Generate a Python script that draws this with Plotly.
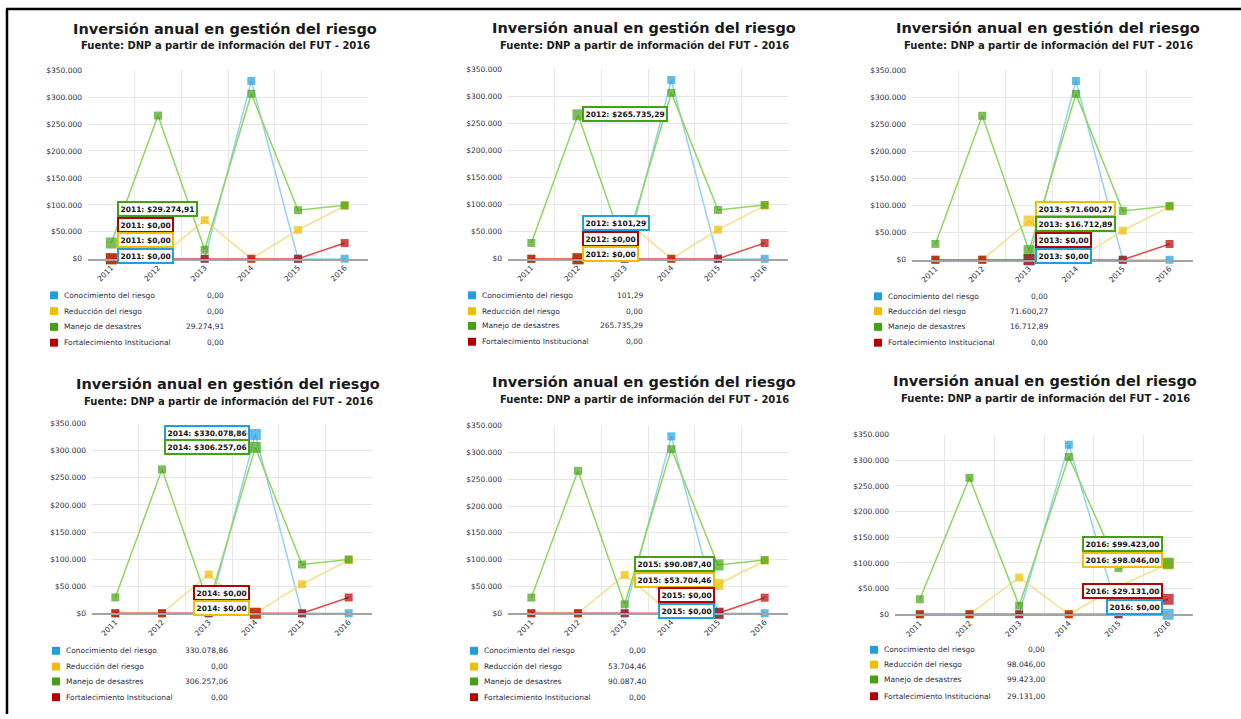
import plotly.graph_objects as go

W, H = 1241, 719

# ---- data -------------------------------------------------------------
years = ["2011", "2012", "2013", "2014", "2015", "2016"]
conocimiento = [0.00, 101.29, 0.00, 330078.86, 0.00, 0.00]
reduccion = [0.00, 0.00, 71600.27, 0.00, 53704.46, 98046.00]
manejo = [29274.91, 265735.29, 16712.89, 306257.06, 90087.40, 99423.00]
fortalecimiento = [0.00, 0.00, 0.00, 0.00, 0.00, 29131.00]

series_names = ["Conocimiento del riesgo", "Reducción del riesgo",
                "Manejo de desastres", "Fortalecimiento Institucional"]
y_ticks = [0, 50000, 100000, 150000, 200000, 250000, 300000, 350000]
title_text = "Inversión anual en gestión del riesgo"
subtitle_text = "Fuente: DNP a partir de información del FUT - 2016"

series_values = [conocimiento, reduccion, manejo, fortalecimiento]

# ---- styles -----------------------------------------------------------
marker_colors = ["#1f9fdf", "#f0bd00", "#43a214", "#b50000"]
line_colors = ["#95d2f0", "#f7dd86", "#8fd65c", "#e24848"]
grid_col = "#e7e7e7"
text_col = "#2b2d42"

# Each panel: plot box (px), title centre, legend layout, hovered year
# and tooltip placement (anchor x, side, centre y per series).
panels = [
    dict(box=(88, 368, 67, 258), tc=(225, 25, 42),
         leg=(54, 62, 226, [295, 311, 327, 343]), hover=0,
         tip=dict(x=117, side="left", ys={2: 208, 3: 224, 1: 239, 0: 255})),
    dict(box=(508, 788, 66, 258), tc=(644, 24, 42),
         leg=(472, 480, 645, [295, 311, 326, 342]), hover=1,
         tip=dict(x=582, side="left", ys={2: 111, 0: 222, 3: 238, 1: 253})),
    dict(box=(912, 1193, 67, 259), tc=(1048, 24, 42),
         leg=(878, 886, 1050, [296, 311, 327, 343]), hover=2,
         tip=dict(x=1035, side="left", ys={1: 208, 2: 223, 3: 239, 0: 255})),
    dict(box=(92, 372, 425, 617), tc=(228, 385, 403),
         leg=(56, 64, 230, [655, 671, 686, 702]), hover=3,
         tip=dict(x=250, side="right", ys={0: 434, 2: 449, 3: 596, 1: 612})),
    dict(box=(508, 788, 427, 617), tc=(644, 383, 401),
         leg=(474, 482, 648, [655, 671, 686, 702]), hover=4,
         tip=dict(x=715, side="right", ys={2: 567, 1: 583, 3: 598, 0: 615})),
    dict(box=(895, 1193, 436, 618), tc=(1045, 382, 400),
         leg=(874, 882, 1047, [654, 669, 684, 701]), hover=5,
         tip=dict(x=1163, side="right", ys={2: 547, 1: 563, 3: 594, 0: 611})),
]


def px(x):
    return x / W


def py(y):
    return 1 - y / H


def fmt(v, dec=2):
    s = f"{v:,.{dec}f}"
    return s.replace(",", "_").replace(".", ",").replace("_", ".")


y_tick_text = ["$" + fmt(v, 0) for v in y_ticks]

fig = go.Figure()
annotations = []
shapes = []

for i, p in enumerate(panels):
    n = "" if i == 0 else str(i + 1)
    xa, ya = "x" + n, "y" + n
    x0, x1, y0, y1 = p["box"]
    h = p["hover"]

    for s, vals in enumerate(series_values):
        fig.add_trace(go.Scatter(
            x=years, y=vals, xaxis=xa, yaxis=ya, mode="lines+markers",
            name=series_names[s], showlegend=False, cliponaxis=False,
            line=dict(color=line_colors[s], width=1.5),
            marker=dict(symbol="square",
                        size=[11 if j == h else 8 for j in range(len(years))],
                        color=marker_colors[s],
                        line=dict(color=marker_colors[s], width=0)),
            hoverinfo="skip"))

    fig.update_layout(**{
        "xaxis" + n: dict(
            type="category", domain=[px(x0), px(x1)], anchor=ya,
            range=[-0.5, 5.5], tickson="boundaries", showgrid=True,
            gridcolor=grid_col, gridwidth=1, showline=True,
            linecolor="#a3a3a3", linewidth=1.5, ticks="", tickangle=-45,
            tickfont=dict(family="DejaVu Sans", size=7.5, color=text_col),
            fixedrange=True),
        "yaxis" + n: dict(
            domain=[py(y1), py(y0)], anchor=xa, range=[0, 350000],
            tickmode="array", tickvals=y_ticks, ticktext=y_tick_text,
            showgrid=True, gridcolor=grid_col, gridwidth=1, zeroline=False,
            showline=False, ticks="", ticklabelstandoff=5,
            tickfont=dict(family="DejaVu Sans", size=7.5, color=text_col),
            fixedrange=True),
    })

    # titles
    tcx, ty, sty = p["tc"]
    annotations.append(dict(
        text=title_text, x=px(tcx), y=py(ty), xref="paper", yref="paper",
        xanchor="center", yanchor="middle", showarrow=False,
        font=dict(family="DejaVu Sans", size=14.5, color="#1a1a1a",
                  weight="bold")))
    annotations.append(dict(
        text=subtitle_text, x=px(tcx), y=py(sty), xref="paper", yref="paper",
        xanchor="center", yanchor="middle", showarrow=False,
        font=dict(family="DejaVu Sans", size=10, color="#1a1a1a",
                  weight="bold")))

    # legend table with the values of the hovered year
    sqx, tx, vx, rows = p["leg"]
    for s, ry in enumerate(rows):
        shapes.append(dict(
            type="rect", xref="paper", yref="paper",
            x0=px(sqx - 4), x1=px(sqx + 4), y0=py(ry + 4), y1=py(ry - 4),
            fillcolor=marker_colors[s], line=dict(width=0)))
        annotations.append(dict(
            text=series_names[s], x=px(tx), y=py(ry), xref="paper",
            yref="paper", xanchor="left", yanchor="middle", showarrow=False,
            font=dict(family="DejaVu Sans", size=7.5, color=text_col)))
        annotations.append(dict(
            text=fmt(series_values[s][h]), x=px(vx), y=py(ry), xref="paper",
            yref="paper", xanchor="right", yanchor="middle", showarrow=False,
            font=dict(family="DejaVu Sans", size=7.5, color=text_col)))

    # tooltips for the hovered year
    tip = p["tip"]
    for s, ty_ in tip["ys"].items():
        annotations.append(dict(
            text="<b>%s: $%s</b>" % (years[h], fmt(series_values[s][h])),
            x=px(tip["x"]), y=py(ty_), xref="paper", yref="paper",
            xanchor=tip["side"], yanchor="middle", showarrow=False,
            bgcolor="white", bordercolor=marker_colors[s], borderwidth=2,
            borderpad=1.5,
            font=dict(family="DejaVu Sans", size=7.5, color="#111111")))

# frame lines along the top and left edges
shapes.append(dict(type="line", xref="paper", yref="paper",
                   x0=px(6), x1=1, y0=py(5), y1=py(5),
                   line=dict(color="black", width=2.5)))
shapes.append(dict(type="line", xref="paper", yref="paper",
                   x0=px(7), x1=px(7), y0=py(5), y1=0,
                   line=dict(color="black", width=2.5)))

fig.update_layout(
    width=W, height=H, margin=dict(l=0, r=0, t=0, b=0),
    paper_bgcolor="white", plot_bgcolor="white", separators=",.",
    annotations=annotations, shapes=shapes, showlegend=False)

fig.write_html("out.html", config=dict(displayModeBar=False))
